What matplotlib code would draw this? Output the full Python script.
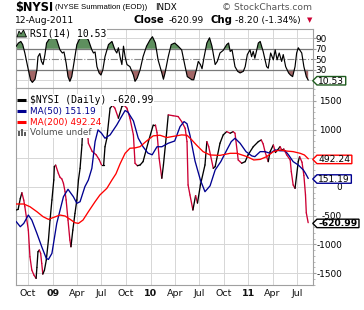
import matplotlib
matplotlib.use("Agg")
import matplotlib.pyplot as plt
import matplotlib.dates as mdates
from matplotlib.collections import LineCollection
from matplotlib.lines import Line2D
from matplotlib.patches import Polygon, Rectangle
from matplotlib.path import Path
from matplotlib.ticker import MultipleLocator
import numpy as np
import pandas as pd

# $NYSI daily close
nysi_dates = [
    "2008-08-18", "2008-08-25", "2008-09-02", "2008-09-08", "2008-09-15", "2008-09-19",
    "2008-10-02", "2008-10-08", "2008-10-15", "2008-10-23", "2008-10-31", "2008-11-03",
    "2008-11-07", "2008-11-12", "2008-11-17", "2008-11-21", "2008-11-25", "2008-12-01",
    "2008-12-08", "2008-12-16", "2008-12-22", "2008-12-29", "2009-01-05", "2009-01-07",
    "2009-01-12", "2009-01-22", "2009-01-28", "2009-02-04", "2009-02-10", "2009-02-16",
    "2009-02-20", "2009-02-27", "2009-03-06", "2009-03-10", "2009-03-17", "2009-03-25",
    "2009-04-01", "2009-04-07", "2009-04-13", "2009-04-20", "2009-04-24", "2009-05-05",
    "2009-05-14", "2009-05-28", "2009-06-12", "2009-06-23", "2009-07-02", "2009-07-10",
    "2009-07-15", "2009-07-22", "2009-08-03", "2009-08-12", "2009-08-21", "2009-09-03",
    "2009-09-16", "2009-09-24", "2009-10-05", "2009-10-16", "2009-10-29", "2009-11-04",
    "2009-11-13", "2009-11-23", "2009-12-04", "2009-12-24", "2010-01-11", "2010-01-19",
    "2010-01-25", "2010-02-02", "2010-02-12", "2010-02-18", "2010-03-01", "2010-03-08",
    "2010-03-26", "2010-04-14", "2010-04-27", "2010-05-10", "2010-05-17", "2010-05-21",
    "2010-05-28", "2010-06-08", "2010-06-18", "2010-06-25", "2010-07-06", "2010-07-23",
    "2010-07-30", "2010-08-06", "2010-08-23", "2010-08-30", "2010-09-17", "2010-09-29",
    "2010-10-12", "2010-10-25", "2010-11-05", "2010-11-12", "2010-11-24", "2010-12-07",
    "2010-12-20", "2010-12-31", "2011-01-19", "2011-02-07", "2011-02-18", "2011-02-25",
    "2011-03-04", "2011-03-16", "2011-03-23", "2011-04-04", "2011-04-12", "2011-04-21",
    "2011-04-29", "2011-05-06", "2011-05-13", "2011-05-24", "2011-06-06", "2011-06-10",
    "2011-06-17", "2011-06-24", "2011-07-06", "2011-07-11", "2011-07-20", "2011-07-27",
    "2011-08-02", "2011-08-05", "2011-08-12",
]
nysi_values = [
    -400, -390, -200, -100, -230, -343,
    -750, -1214, -1445, -1533, -1590, -1400,
    -1127, -1097, -1155, -1330, -1515, -1450,
    -1271, -923, -575, -226, 122, 354,
    380, 238, 170, 140, 64, -82,
    -226, -575, -923, -1040, -749, -459,
    -226, 122, 325, 731, 1138, 1350,
    761, 620, 560, 480, 383, 383,
    700, 848, 1371, 1420, 1371, 1197,
    1399, 1420, 1371, 1197, 906, 413,
    370, 383, 441, 790, 1080, 1080,
    950, 500, 152, 383, 900, 1254,
    1240, 1225, 1138, 1022, 789, 35,
    -139, -400, -150, -280, 35, 383,
    789, 700, 325, 354, 761, 906,
    963, 935, 963, 935, 470, 413,
    441, 560, 700, 789, 818, 750,
    615, 441, 615, 731, 600, 650,
    702, 640, 660, 557, 470, 267,
    35, -23, 441, 528, 430, 200,
    -139, -450, -620.99,
]

# 50-day moving average
ma50_dates = [
    "2008-08-18", "2008-09-02", "2008-09-15", "2008-10-02", "2008-10-15", "2008-11-03",
    "2008-11-21", "2008-12-08", "2008-12-16", "2008-12-29", "2009-01-16", "2009-02-10",
    "2009-02-27", "2009-03-19", "2009-04-01", "2009-04-13", "2009-05-01", "2009-05-14",
    "2009-05-27", "2009-06-08", "2009-06-19", "2009-07-02", "2009-07-15", "2009-08-03",
    "2009-08-28", "2009-09-14", "2009-09-28", "2009-10-09", "2009-10-29", "2009-11-16",
    "2009-12-04", "2009-12-22", "2010-01-07", "2010-01-25", "2010-02-12", "2010-03-08",
    "2010-04-01", "2010-04-21", "2010-05-06", "2010-05-17", "2010-05-28", "2010-06-16",
    "2010-07-06", "2010-07-23", "2010-08-11", "2010-08-30", "2010-09-20", "2010-10-12",
    "2010-10-29", "2010-11-12", "2010-12-01", "2010-12-23", "2011-01-14", "2011-01-25",
    "2011-02-14", "2011-03-04", "2011-03-23", "2011-04-11", "2011-04-29", "2011-05-18",
    "2011-05-31", "2011-06-17", "2011-07-06", "2011-07-25", "2011-08-02", "2011-08-12",
]
ma50_values = [
    -604, -691, -633, -488, -575, -807,
    -1040, -1242, -1260, -1155, -633, -169,
    -40, -169, -284, -256, 5, 122,
    325, 789, 993, 935, 848, 906,
    1080, 1220, 1330, 1300, 1150, 850,
    700, 590, 560, 700, 700, 761,
    800, 1050, 1138, 1100, 900, 450,
    120, -82, 20, 296, 441, 640,
    789, 848, 761, 615, 540, 528,
    615, 615, 586, 645, 630, 630,
    557, 441, 383, 296, 238, 151.19,
]

# 200-day moving average
ma200_dates = [
    "2008-08-18", "2008-09-15", "2008-10-08", "2008-11-03", "2008-11-26", "2008-12-16",
    "2009-01-05", "2009-01-28", "2009-02-16", "2009-03-06", "2009-03-25", "2009-04-07",
    "2009-04-24", "2009-05-14", "2009-06-08", "2009-06-26", "2009-07-22", "2009-08-10",
    "2009-08-25", "2009-09-09", "2009-09-28", "2009-10-16", "2009-11-04", "2009-11-23",
    "2009-12-17", "2010-01-11", "2010-02-05", "2010-03-02", "2010-03-26", "2010-04-27",
    "2010-05-17", "2010-06-04", "2010-06-21", "2010-07-16", "2010-08-11", "2010-09-17",
    "2010-10-25", "2010-11-19", "2010-12-27", "2011-01-21", "2011-02-14", "2011-03-10",
    "2011-04-04", "2011-04-29", "2011-05-24", "2011-06-17", "2011-07-13", "2011-07-29",
    "2011-08-12",
]
ma200_values = [
    -296, -296, -343, -430, -517, -563,
    -528, -488, -505, -560, -622, -633,
    -575, -430, -256, -139, -23, 122,
    230, 400, 586, 674, 680, 702,
    800, 890, 900, 860, 880, 906,
    900, 818, 731, 615, 557, 550,
    586, 586, 528, 470, 480, 528,
    615, 645, 625, 615, 586, 557,
    492.24,
]

# RSI(14)
rsi_dates = [
    "2008-08-18", "2008-08-26", "2008-09-04", "2008-09-11", "2008-09-19", "2008-10-02",
    "2008-10-10", "2008-10-17", "2008-10-27", "2008-11-03", "2008-11-07", "2008-11-14",
    "2008-11-20", "2008-11-26", "2008-12-03", "2008-12-09", "2008-12-22", "2009-01-05",
    "2009-01-16", "2009-01-28", "2009-02-06", "2009-02-12", "2009-02-20", "2009-02-27",
    "2009-03-06", "2009-03-13", "2009-03-23", "2009-04-01", "2009-04-13", "2009-05-01",
    "2009-05-14", "2009-05-27", "2009-06-02", "2009-06-08", "2009-06-15", "2009-06-23",
    "2009-06-30", "2009-07-07", "2009-07-15", "2009-07-28", "2009-08-10", "2009-08-21",
    "2009-08-28", "2009-09-03", "2009-09-09", "2009-09-16", "2009-09-22", "2009-09-28",
    "2009-10-05", "2009-10-16", "2009-10-29", "2009-11-04", "2009-11-12", "2009-11-23",
    "2009-12-04", "2009-12-17", "2009-12-30", "2010-01-08", "2010-01-19", "2010-01-29",
    "2010-02-12", "2010-02-18", "2010-02-24", "2010-03-08", "2010-03-19", "2010-04-01",
    "2010-04-14", "2010-04-27", "2010-05-10", "2010-05-18", "2010-06-04", "2010-06-11",
    "2010-06-21", "2010-06-28", "2010-07-06", "2010-07-12", "2010-07-20", "2010-07-30",
    "2010-08-09", "2010-08-18", "2010-08-30", "2010-09-07", "2010-09-17", "2010-09-29",
    "2010-10-12", "2010-10-19", "2010-10-25", "2010-11-01", "2010-11-12", "2010-11-22",
    "2010-12-01", "2010-12-13", "2010-12-20", "2010-12-28", "2011-01-07", "2011-01-13",
    "2011-01-19", "2011-01-25", "2011-02-07", "2011-02-14", "2011-02-25", "2011-03-10",
    "2011-03-16", "2011-03-25", "2011-04-04", "2011-04-11", "2011-04-18", "2011-04-26",
    "2011-05-05", "2011-05-11", "2011-05-20", "2011-05-31", "2011-06-07", "2011-06-15",
    "2011-06-24", "2011-06-30", "2011-07-06", "2011-07-19", "2011-07-27", "2011-08-05",
    "2011-08-12",
]
rsi_values = [
    75, 81, 84, 78, 62, 30,
    11, 6, 12, 30, 55, 61,
    46, 40, 59, 81, 91, 93,
    87, 68, 62, 64, 43, 17,
    8, 17, 49, 78, 91, 93,
    87, 68, 62, 64, 36, 24,
    20, 30, 55, 78, 84, 68,
    62, 72, 55, 40, 75, 55,
    40, 36, 20, 8, 14, 30,
    55, 75, 87, 93, 81, 49,
    24, 12, 24, 55, 78, 81,
    75, 68, 36, 17, 11, 11,
    30, 46, 40, 32, 55, 81,
    91, 75, 40, 46, 62, 67,
    78, 81, 65, 68, 36, 27,
    24, 27, 36, 59, 68, 55,
    65, 52, 81, 84, 65, 36,
    33, 62, 49, 68, 49, 62,
    46, 59, 36, 24, 20, 17,
    36, 62, 72, 62, 36, 17,
    10.53,
]

tick_dates = ["2008-10-01", "2009-01-01", "2009-04-01", "2009-07-01", "2009-10-01",
              "2010-01-01", "2010-04-01", "2010-07-01", "2010-10-01", "2011-01-01",
              "2011-04-01", "2011-07-01"]
tick_labels = ["Oct", "09", "Apr", "Jul", "Oct", "10", "Apr", "Jul", "Oct", "11", "Apr", "Jul"]

# right-axis ticks of the price panel (the 500 label sits under the MA(200) tag)
y_ticks = [-1500, -1000, -500, 0, 500, 1000, 1500]
y_tick_labels = ["-1500", "-1000", "-500", "0", "", "1000", "1500"]
rsi_ticks = [30, 50, 70, 90]

last_chg = -8.20
last_chg_pct = -1.34

plt.rcParams['font.family'] = ['DejaVu Sans']
plt.rcParams['axes.unicode_minus'] = False

W, H = 364, 310
fig = plt.figure(figsize=(W / 100, H / 100), dpi=100)
fig.patch.set_facecolor('white')


def fx(px):
    return px / W


def fy(py):
    return 1 - py / H


LEFT, RIGHT = 16, 313
RSI_TOP, SPLIT, BOTTOM = 28.5, 88, 285
GRID = '#d6d6d6'
SPINE = '#a0a0a0'
UP, DOWN = 'black', '#cc0033'

ax_rsi = fig.add_axes([fx(LEFT), fy(SPLIT), fx(RIGHT) - fx(LEFT), fy(RSI_TOP) - fy(SPLIT)])
ax = fig.add_axes([fx(LEFT), fy(BOTTOM), fx(RIGHT) - fx(LEFT), fy(SPLIT) - fy(BOTTOM)],
                  sharex=ax_rsi)

# price line: black on up days, crimson on down days
xn = mdates.date2num(pd.to_datetime(nysi_dates))
pts = np.column_stack([xn, nysi_values])
segs = np.stack([pts[:-1], pts[1:]], axis=1)
cols = [UP if b >= a else DOWN for a, b in zip(nysi_values[:-1], nysi_values[1:])]
ax.add_collection(LineCollection(segs, colors=cols, linewidths=0.95, capstyle='round',
                                 joinstyle='round', zorder=3))
ax.plot(pd.to_datetime(ma50_dates), ma50_values, color='#000090', lw=0.95, zorder=4)
ax.plot(pd.to_datetime(ma200_dates), ma200_values, color='#ff0000', lw=0.95, zorder=4)

ax.set_xlim(mdates.date2num(pd.Timestamp("2008-08-17")),
            mdates.date2num(pd.Timestamp("2011-08-30")))
ax.set_ylim(-1705, 1722)

# RSI panel
rd = pd.to_datetime(rsi_dates)
rv = np.array(rsi_values)
ax_rsi.fill_between(rd, rv, 70, where=rv >= 70, interpolate=True, color='#5e8f5e', lw=0)
ax_rsi.fill_between(rd, rv, 30, where=rv <= 30, interpolate=True, color='#a26666', lw=0)
ax_rsi.plot(rd, rv, color='black', lw=0.85, zorder=4)
for lvl in (10, 90):
    ax_rsi.axhline(lvl, color=GRID, lw=0.7, zorder=0)
for lvl in (30, 70):
    ax_rsi.axhline(lvl, color='#7a7a7a', lw=0.9, zorder=1)
ax_rsi.axhline(50, color='#8a8a8a', lw=0.8, ls='-.', zorder=1)
ax_rsi.set_ylim(-4.7, 108.7)

# ticks and grids
tick_nums = mdates.date2num(pd.to_datetime(tick_dates))
ax.set_xticks(tick_nums)
ax.set_xticklabels(tick_labels)
for lab, txt in zip(ax.get_xticklabels(), tick_labels):
    lab.set_fontweight('bold' if txt.isdigit() else 'normal')
ax.tick_params(axis='x', length=0, pad=3.2, labelsize=6.8, colors='#111111')
ax_rsi.tick_params(axis='x', length=0, labelbottom=False)

for a in (ax, ax_rsi):
    a.grid(axis='x', color=GRID, lw=0.7, zorder=0)
    a.set_facecolor('white')
    for sp in a.spines.values():
        sp.set_color(SPINE)
        sp.set_linewidth(0.8)
    a.yaxis.tick_right()
    a.set_axisbelow(True)

ax.set_yticks(y_ticks)
ax.set_yticklabels(y_tick_labels)
ax.yaxis.set_minor_locator(MultipleLocator(100))
ax.grid(axis='y', color=GRID, lw=0.7, zorder=0)
ax.tick_params(axis='y', which='major', length=2.5, pad=18.4, labelsize=6.4, color=SPINE)
ax.tick_params(axis='y', which='minor', length=1.5, color='#b0b0b0')
for lab in ax.get_yticklabels():
    lab.set_horizontalalignment('right')

ax_rsi.set_yticks(rsi_ticks)
ax_rsi.tick_params(axis='y', length=2, pad=7.7, labelsize=6.4, color=SPINE)
for lab in ax_rsi.get_yticklabels():
    lab.set_horizontalalignment('right')


# value tags on the right axis
def tag_shape(x0, y0, width, height, mutation_size):
    pad = 0.15 * mutation_size
    bx0 = x0 - pad
    bx1 = x0 + width + pad
    by0 = y0 + 0.06 * height
    by1 = y0 + height
    tip = 0.5 * (by1 - by0)
    ym = 0.5 * (by0 + by1)
    verts = [(bx0 - tip, ym), (bx0, by0), (bx1, by0), (bx1, by1), (bx0, by1), (bx0 - tip, ym)]
    return Path(verts, closed=True)


def tag(a, y, text, edge, bold=False):
    a.text(1.018, y, text, transform=a.get_yaxis_transform(), ha='left', va='center_baseline',
           fontsize=6.6, fontweight='bold' if bold else 'normal', color='black',
           zorder=10, clip_on=False,
           bbox=dict(boxstyle=tag_shape, facecolor='white', edgecolor=edge, linewidth=1))


tag(ax, ma200_values[-1], f"{ma200_values[-1]:.2f}", '#ff0000')
tag(ax, ma50_values[-1], f"{ma50_values[-1]:.2f}", '#000090')
tag(ax, nysi_values[-1], f"{nysi_values[-1]:.2f}", 'black', bold=True)
tag(ax_rsi, rsi_values[-1], f"{rsi_values[-1]:.2f}", '#1d5a1d')

# header
fig.text(fx(15), fy(7), "$NYSI", fontsize=8.3, fontweight='bold', va='center', ha='left')
fig.text(fx(55), fy(7.5), "(NYSE Summation (EOD))", fontsize=5.6, family='Liberation Sans',
         va='center', ha='left')
fig.text(fx(155), fy(7.5), "INDX", fontsize=6.3, va='center', ha='left')
fig.text(fx(312), fy(7.2), "\u00a9 StockCharts.com", fontsize=6.6,
         color='#555555', va='center', ha='right')
fig.text(fx(15), fy(20.3), "12-Aug-2011", fontsize=6.6, va='center', ha='left')
fig.text(fx(133.3), fy(20.3), "Close", fontsize=7.3, fontweight='bold', va='center', ha='left')
fig.text(fx(168.3), fy(20.3), f"{nysi_values[-1]:.2f}", fontsize=6.6, va='center', ha='left')
fig.text(fx(210.7), fy(20.3), "Chg", fontsize=7.3, fontweight='bold', va='center', ha='left')
fig.text(fx(235), fy(20.3), f"{last_chg:.2f} ({last_chg_pct:.2f}%)", fontsize=6.6,
         va='center', ha='left')
fig.text(fx(309.3), fy(20.5), "\u25bc", fontsize=5, color=DOWN, va='center', ha='center')

# RSI label with its little icon
fig.add_artist(Polygon([(fx(17), fy(37)), (fx(19), fy(31)), (fx(21), fy(34)), (fx(23.5), fy(30)),
                        (fx(26.5), fy(37))], closed=True, transform=fig.transFigure,
                       facecolor='#5e8f5e', edgecolor='black', lw=0.6))
fig.text(fx(30), fy(33.5), f"RSI(14) {rsi_values[-1]:.2f}", fontsize=7, family='DejaVu Sans Mono',
         va='center', ha='left',
         bbox=dict(boxstyle='square,pad=0.05', facecolor='white', edgecolor='none'))

# legend of the main panel
rows = [
    (100.0, f"$NYSI (Daily) {nysi_values[-1]:.2f}", 'black', 'DejaVu Sans Mono', 7.0),
    (111.3, f"MA(50) {ma50_values[-1]:.2f}", '#000090', 'DejaVu Sans', 6.4),
    (122.0, f"MA(200) {ma200_values[-1]:.2f}", '#ff0000', 'DejaVu Sans', 6.4),
    (132.7, "Volume undef", '#505050', 'DejaVu Sans', 6.4),
]
for i, (yy, txt, col, fam, fs) in enumerate(rows):
    fig.text(fx(29.5), fy(yy), txt, fontsize=fs, family=fam, color=col, va='center', ha='left',
             bbox=dict(boxstyle='square,pad=0.1', facecolor='white', edgecolor='none'))
    if i < 3:
        fig.add_artist(Line2D([fx(17), fx(26)], [fy(yy), fy(yy)], transform=fig.transFigure,
                              color=col, lw=2.2, solid_capstyle='butt'))
for bx, bh in ((18, 5), (21, 7), (24, 4)):
    fig.add_artist(Rectangle((fx(bx), fy(136)), fx(2.2), fy(136 - bh) - fy(136),
                             transform=fig.transFigure, facecolor='#606060', edgecolor='none'))

fig.savefig("out.png", dpi=100, facecolor='white')
